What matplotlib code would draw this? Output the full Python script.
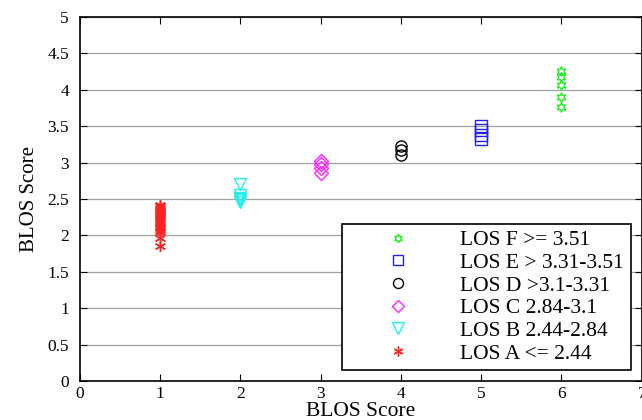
import numpy as np
import matplotlib
matplotlib.use('Agg')
import matplotlib.pyplot as plt

plt.rcParams['font.family'] = ['Liberation Serif', 'DejaVu Serif']

# BLOS scores per LOS class (x = class index)
los_a = [2.42, 2.40, 2.37, 2.35, 2.33, 2.31, 2.29, 2.27, 2.25, 2.22, 2.20,
         2.18, 2.15, 2.12, 2.10, 2.08, 2.05, 1.97, 1.85]
los_b = [2.70, 2.55, 2.52, 2.50, 2.48, 2.46]
los_c = [3.02, 2.98, 2.93, 2.86]
los_d = [3.23, 3.17, 3.10]
los_e = [3.50, 3.45, 3.38, 3.33]
los_f = [4.26, 4.17, 4.07, 3.90, 3.76]

labels = ['LOS F >= 3.51', 'LOS E > 3.31-3.51', 'LOS D >3.1-3.31',
          'LOS C 2.84-3.1', 'LOS B 2.44-2.84', 'LOS A <= 2.44']

fig = plt.figure(figsize=(6.42, 4.2), dpi=100)
ax = fig.add_axes([0.1246, 0.0929, 0.875, 0.8666])

series = [
    (6, los_f, (6, 1, 0), '#22ee22', 7),
    (5, los_e, 's', '#2222ee', 8),
    (4, los_d, 'o', 'black', 8),
    (3, los_c, 'D', '#ff22ff', 7),
    (2, los_b, 'v', '#22eeee', 9),
    (1, los_a, (6, 2, 0), '#ff2222', 8),
]
for (x, vals, mk, col, ms), lab in zip(series, labels):
    ax.plot(np.full(len(vals), x), vals, linestyle='none', marker=mk,
            markersize=ms, markerfacecolor='none', markeredgecolor=col,
            markeredgewidth=1.0, label=lab)

ax.set_xlim(0, 7)
ax.set_ylim(0, 5)
ax.set_xticks(range(0, 8))
ax.set_yticks(np.arange(0, 5.01, 0.5))
ax.set_yticklabels(['0', '0.5', '1', '1.5', '2', '2.5', '3', '3.5', '4', '4.5', '5'])
ax.yaxis.grid(True, color='#a0a0a0', linewidth=0.9)
ax.set_axisbelow(True)
ax.tick_params(direction='in', top=True, right=True, labelsize=12.5, length=5)
ax.tick_params(axis='y', pad=8)
for s in ax.spines.values():
    s.set_linewidth(1.2)

ax.set_xlabel('BLOS Score', fontsize=15.5, labelpad=0)
ax.set_ylabel('BLOS Score', fontsize=15, labelpad=6)

leg = ax.legend(loc='lower right', bbox_to_anchor=(0.98, 0.03), borderaxespad=0,
                fontsize=15.5, frameon=True, fancybox=False, edgecolor='black',
                framealpha=1, borderpad=0.3, labelspacing=0.12,
                handlelength=4.6, handletextpad=0.6, markerscale=0.9)
leg.get_frame().set_linewidth(1.2)

fig.savefig('out.png', dpi=100)
